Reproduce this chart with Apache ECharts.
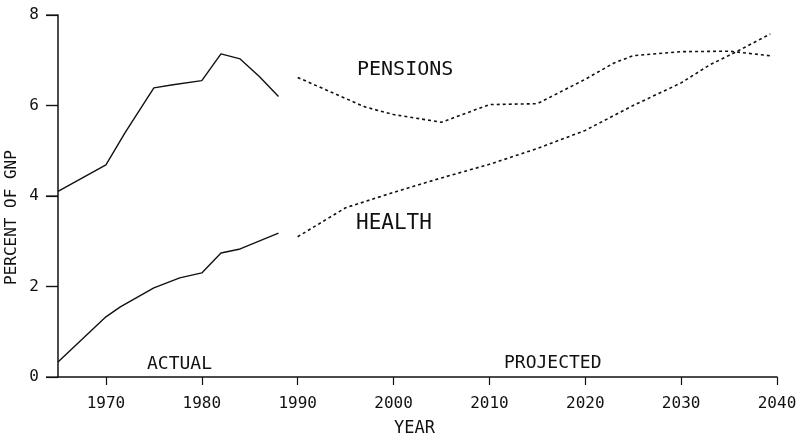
<!DOCTYPE html>
<html>
<head>
<meta charset="utf-8">
<script src="https://cdn.jsdelivr.net/npm/echarts@6/dist/echarts.min.js"></script>
<style>
html,body{margin:0;padding:0;background:#fff;}
#chart{width:800px;height:440px;}
</style>
</head>
<body>
<div id="chart"></div>
<script>
// Data
var pensionsActualYears  = [1965, 1970, 1972, 1975, 1977, 1980, 1982, 1984, 1986, 1988];
var pensionsActualValues = [4.1, 4.69, 5.4, 6.39, 6.46, 6.55, 7.14, 7.03, 6.64, 6.2];
var pensionsProjYears    = [1990, 1997, 2000, 2005, 2010, 2015, 2020, 2023, 2025, 2030, 2035, 2039.3];
var pensionsProjValues   = [6.62, 5.97, 5.8, 5.63, 6.02, 6.04, 6.58, 6.94, 7.1, 7.19, 7.2, 7.1];
var healthActualYears    = [1965, 1970, 1971.5, 1975, 1977.7, 1980, 1982, 1984, 1988];
var healthActualValues   = [0.33, 1.33, 1.55, 1.97, 2.19, 2.3, 2.74, 2.83, 3.18];
var healthProjYears      = [1990, 1995, 2000, 2005, 2010, 2015, 2020, 2025, 2030, 2033, 2035.5, 2039.3];
var healthProjValues     = [3.1, 3.74, 4.08, 4.4, 4.7, 5.05, 5.45, 6.0, 6.5, 6.9, 7.16, 7.58];
var xTickYears  = [1970, 1980, 1990, 2000, 2010, 2020, 2030, 2040];
var yTickValues = [0, 2, 4, 6, 8];

function pairs(xs, ys){ return xs.map(function(x,i){ return [x, ys[i]]; }); }

var FONT = '"DejaVu Sans Mono", "Liberation Mono", monospace';
var INK = '#111';
var X_MIN = 1965, X_MAX = 2040;

var chart = echarts.init(document.getElementById('chart'), null, {renderer:'canvas'});
chart.setOption({
  backgroundColor: '#fff',
  animation: false,
  grid: {left: 58, right: 23, top: 15, bottom: 63, containLabel: false},
  xAxis: {
    type: 'value', min: X_MIN, max: X_MAX,
    axisLine: {show: true, lineStyle: {color: INK, width: 1.5}},
    axisTick: {show: true, inside: false, length: 8, customValues: xTickYears, lineStyle: {color: INK, width: 1.2}},
    axisLabel: {customValues: xTickYears, margin: 19, color: INK, fontFamily: FONT, fontSize: 16,
      formatter: function(v){ return String(v); }},
    splitLine: {show: false}
  },
  yAxis: {
    type: 'value', min: 0, max: 8,
    axisLine: {show: true, lineStyle: {color: INK, width: 1.5}},
    axisTick: {show: true, inside: false, length: 12, customValues: yTickValues, lineStyle: {color: INK, width: 1.2}},
    axisLabel: {customValues: yTickValues, margin: 19, color: INK, fontFamily: FONT, fontSize: 16,
      formatter: function(v){ return String(v); }},
    splitLine: {show: false}
  },
  series: [
    {type: 'line', data: pairs(pensionsActualYears, pensionsActualValues), showSymbol: false,
     lineStyle: {color: INK, width: 1.4}},
    {type: 'line', data: pairs(pensionsProjYears, pensionsProjValues), showSymbol: false,
     lineStyle: {color: INK, width: 1.6, type: [3, 3]}},
    {type: 'line', data: pairs(healthActualYears, healthActualValues), showSymbol: false,
     lineStyle: {color: INK, width: 1.4}},
    {type: 'line', data: pairs(healthProjYears, healthProjValues), showSymbol: false,
     lineStyle: {color: INK, width: 1.6, type: [3, 3]}},
    // y-axis tick marks drawn through the axis scale
    {type: 'custom', clip: false, silent: true,
     data: yTickValues.map(function(v){ return [X_MIN, v]; }),
     renderItem: function(params, api){
       var p = api.coord([api.value(0), api.value(1)]);
       return {type: 'line', shape: {x1: p[0] - 12, y1: p[1], x2: p[0], y2: p[1]},
               style: {stroke: INK, lineWidth: 1.2}};
     }}
  ],
  graphic: [
    {type: 'text', left: 357, top: 60, style: {text: 'PENSIONS', font: '20px ' + FONT, fill: INK}},
    {type: 'text', left: 356, top: 213, style: {text: 'HEALTH', font: '21px ' + FONT, fill: INK}},
    {type: 'text', left: 147, top: 355, style: {text: 'ACTUAL', font: '18px ' + FONT, fill: INK}},
    {type: 'text', left: 504, top: 354, style: {text: 'PROJECTED', font: '18px ' + FONT, fill: INK}},
    {type: 'text', left: 394, top: 420, style: {text: 'YEAR', font: '17px ' + FONT, fill: INK}},
    {type: 'text', x: 4, y: 285, rotation: Math.PI / 2, style: {text: 'PERCENT OF GNP', font: '16px ' + FONT, fill: INK}}
  ]
});
</script>
</body>
</html>
